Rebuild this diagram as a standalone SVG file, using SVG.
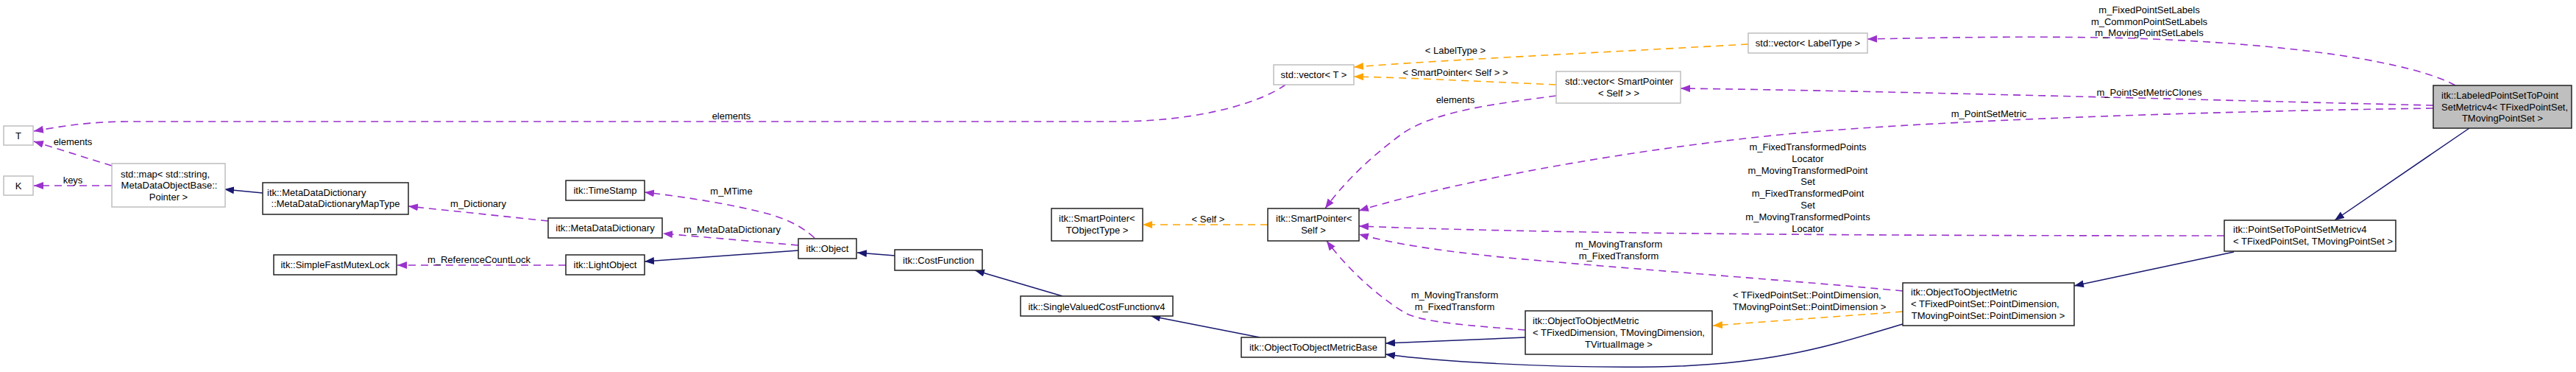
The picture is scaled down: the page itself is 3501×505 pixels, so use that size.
<svg xmlns="http://www.w3.org/2000/svg" width="3501" height="505" viewBox="0 0 3501 505">
<style>
text{font-family:"Liberation Sans",Arial,sans-serif;font-size:13px;fill:#000}
.c{text-anchor:middle}
.n rect{fill:#fff;stroke:#222;stroke-width:1.5}
.g rect{fill:#fff;stroke:#bfbfbf;stroke-width:1.5}
.sel rect{fill:#bfbfbf;stroke:#222;stroke-width:1.5}
.u{fill:none;stroke:#9a32cd;stroke-width:1.6;stroke-dasharray:10,7;marker-end:url(#mu)}
.t{fill:none;stroke:#ffa500;stroke-width:1.6;stroke-dasharray:10,7;marker-end:url(#mt)}
.i{fill:none;stroke:#191970;stroke-width:1.5;marker-end:url(#mi)}
</style>
<defs>
<marker id="mu" markerUnits="userSpaceOnUse" markerWidth="14" markerHeight="11" refX="13" refY="5" orient="auto"><path d="M0,0 L13,5 L0,10 z" fill="#9a32cd"/></marker>
<marker id="mt" markerUnits="userSpaceOnUse" markerWidth="14" markerHeight="11" refX="13" refY="5" orient="auto"><path d="M0,0 L13,5 L0,10 z" fill="#ffa500"/></marker>
<marker id="mi" markerUnits="userSpaceOnUse" markerWidth="14" markerHeight="11" refX="13" refY="5" orient="auto"><path d="M0,0 L13,5 L0,10 z" fill="#191970"/></marker>
</defs>
<rect width="3501" height="505" fill="#fff"/>
<g id="edges">
<path class="u" d="M1747,115 C1720,135 1640,165 1514,165 L175,165 C120,165 80,172 46,178"/>
<text class="c" x="994" y="161.5">elements</text>
<path class="u" d="M152,225 L46,192"/>
<text class="c" x="99" y="196.5">elements</text>
<path class="u" d="M152,252 L46,252"/>
<text class="c" x="99" y="248.5">keys</text>
<path class="i" d="M357,262 L305,257"/>
<path class="u" d="M745,300 L555,280"/>
<text class="c" x="650" y="280.5">m_Dictionary</text>
<path class="u" d="M1107,323 C1090,308 1075,300 1050,292 C1000,278 930,267 876,261"/>
<text class="c" x="994" y="263.5">m_MTime</text>
<path class="u" d="M1085,333 L901,317"/>
<text class="c" x="995" y="315.5">m_MetaDataDictionary</text>
<path class="u" d="M769,360 L540,360"/>
<text class="c" x="651" y="356.5">m_ReferenceCountLock</text>
<path class="i" d="M1085,340 L876,355"/>
<path class="i" d="M1216,347 L1165,343"/>
<path class="i" d="M1444,402 L1325,367"/>
<path class="i" d="M1712,458 L1564,429"/>
<path class="t" d="M1723,305 L1553,305"/>
<text class="c" x="1642" y="301.5">&lt; Self &gt;</text>
<path class="u" d="M2115,130 C2040,140 1950,150 1905,182 C1860,215 1825,250 1801,283"/>
<text class="c" x="1978" y="139.5">elements</text>
<path class="u" d="M3307,147 C3000,151 2650,163 2450,180 C2250,198 2000,240 1847,286"/>
<text class="c" x="2703" y="158.5">m_PointSetMetric</text>
<path class="u" d="M3307,143 C3000,136 2600,124 2284,120"/>
<text class="c" x="2921" y="129.5">m_PointSetMetricClones</text>
<path class="u" d="M3337,116 C3300,95 3180,62 2900,52 C2750,48 2600,52 2538,53"/>
<text class="c" x="2921" y="17.8">m_FixedPointSetLabels</text>
<text class="c" x="2921" y="33.5">m_CommonPointSetLabels</text>
<text class="c" x="2921" y="48.8">m_MovingPointSetLabels</text>
<path class="t" d="M2376,60 C2200,70 1950,82 1840,91"/>
<text class="c" x="1978" y="72.5">&lt; LabelType &gt;</text>
<path class="t" d="M2115,115 C2000,110 1900,105 1840,104"/>
<text class="c" x="1978" y="102.5">&lt; SmartPointer&lt; Self &gt; &gt;</text>
<path class="u" d="M3023,320 C2500,320 2100,317 1847,307"/>
<text class="c" x="2457" y="203.8">m_FixedTransformedPoints</text>
<text class="c" x="2457" y="219.5">Locator</text>
<text class="c" x="2457" y="235.5">m_MovingTransformedPoint</text>
<text class="c" x="2457" y="251.2">Set</text>
<text class="c" x="2457" y="267.2">m_FixedTransformedPoint</text>
<text class="c" x="2457" y="282.8">Set</text>
<text class="c" x="2457" y="298.8">m_MovingTransformedPoints</text>
<text class="c" x="2457" y="314.5">Locator</text>
<path class="u" d="M2586,395 C2450,382 2250,368 2050,350 C1950,340 1890,330 1847,318"/>
<text class="c" x="2200" y="336.2">m_MovingTransform</text>
<text class="c" x="2200" y="351.8">m_FixedTransform</text>
<path class="u" d="M2073,448 C2000,442 1935,438 1910,425 C1860,395 1820,350 1803,327"/>
<text class="c" x="1977" y="405.2">m_MovingTransform</text>
<text class="c" x="1977" y="421.2">m_FixedTransform</text>
<path class="t" d="M2586,423 L2328,442"/>
<text x="2355" y="404.5">&lt; TFixedPointSet::PointDimension,</text>
<text x="2355" y="421.2">TMovingPointSet::PointDimension &gt;</text>
<path class="i" d="M2073,458 L1883,466"/>
<path class="i" d="M2586,440 C2500,465 2420,495 2250,498 C2100,500 1950,490 1883,481"/>
<path class="i" d="M3036,342 L2819,388"/>
<path class="i" d="M3356,174 L3173,299"/>
</g>
<g id="T" class="g"><rect x="5" y="171" width="40" height="26"/><text class="c" x="25" y="188.5">T</text></g>
<g id="K" class="g"><rect x="5" y="239" width="40" height="26"/><text class="c" x="25" y="256.5">K</text></g>
<g id="stdmap" class="g"><rect x="152" y="222" width="154" height="59"/><text x="164" y="240.5">std::map&lt; std::string,</text><text class="c" x="230" y="256">MetaDataObjectBase::</text><text class="c" x="229" y="271.5">Pointer &gt;</text></g>
<g id="maptype" class="n"><rect x="357" y="248" width="198" height="43"/><text x="363" y="265.5">itk::MetaDataDictionary</text><text class="c" x="456" y="281">::MetaDataDictionaryMapType</text></g>
<g id="mutex" class="n"><rect x="372" y="346" width="167" height="27"/><text class="c" x="455.5" y="364">itk::SimpleFastMutexLock</text></g>
<g id="timestamp" class="n"><rect x="769" y="245" width="107" height="27"/><text class="c" x="822.5" y="263">itk::TimeStamp</text></g>
<g id="mdd" class="n"><rect x="745" y="296" width="155" height="27"/><text class="c" x="822.5" y="314">itk::MetaDataDictionary</text></g>
<g id="lightobject" class="n"><rect x="769" y="346" width="107" height="27"/><text class="c" x="822.5" y="364">itk::LightObject</text></g>
<g id="object" class="n"><rect x="1085" y="324" width="79" height="27"/><text class="c" x="1124.5" y="342">itk::Object</text></g>
<g id="costfunction" class="n"><rect x="1216" y="339" width="119" height="28"/><text class="c" x="1275.5" y="357.5">itk::CostFunction</text></g>
<g id="svcf" class="n"><rect x="1387" y="402" width="207" height="27"/><text class="c" x="1490.5" y="420.5">itk::SingleValuedCostFunctionv4</text></g>
<g id="otombase" class="n"><rect x="1687" y="458" width="196" height="27"/><text class="c" x="1785" y="475.5">itk::ObjectToObjectMetricBase</text></g>
<g id="sptobj" class="n"><rect x="1429" y="283" width="124" height="44"/><text x="1439" y="301.2">itk::SmartPointer&lt;</text><text class="c" x="1491" y="316.8">TObjectType &gt;</text></g>
<g id="spself" class="n"><rect x="1723" y="283" width="124" height="44"/><text x="1734" y="301.2">itk::SmartPointer&lt;</text><text class="c" x="1785" y="316.8">Self &gt;</text></g>
<g id="vecT" class="g"><rect x="1731" y="88" width="109" height="27"/><text class="c" x="1785.5" y="106">std::vector&lt; T &gt;</text></g>
<g id="vecSP" class="g"><rect x="2115" y="97" width="169" height="43"/><text x="2127" y="115">std::vector&lt; SmartPointer</text><text class="c" x="2200" y="130.5">&lt; Self &gt; &gt;</text></g>
<g id="vecLabel" class="g"><rect x="2376" y="45" width="162" height="27"/><text class="c" x="2457" y="63">std::vector&lt; LabelType &gt;</text></g>
<g id="labeled" class="sel"><rect x="3307" y="116" width="188" height="58"/><text x="3318" y="133.9">itk::LabeledPointSetToPoint</text><text x="3318" y="149.5">SetMetricv4&lt; TFixedPointSet,</text><text class="c" x="3401" y="165.1">TMovingPointSet &gt;</text></g>
<g id="pspsm" class="n"><rect x="3023" y="299" width="233" height="42"/><text x="3035" y="315.5">itk::PointSetToPointSetMetricv4</text><text x="3035" y="331.8">&lt; TFixedPointSet, TMovingPointSet &gt;</text></g>
<g id="otomPS" class="n"><rect x="2586" y="384" width="233" height="58"/><text x="2597" y="401.2">itk::ObjectToObjectMetric</text><text x="2597" y="417.2">&lt; TFixedPointSet::PointDimension,</text><text class="c" x="2702" y="433.2">TMovingPointSet::PointDimension &gt;</text></g>
<g id="otomDim" class="n"><rect x="2073" y="422" width="254" height="59"/><text x="2083" y="440.2">itk::ObjectToObjectMetric</text><text x="2083" y="456.2">&lt; TFixedDimension, TMovingDimension,</text><text class="c" x="2200" y="472.2">TVirtualImage &gt;</text></g>
</svg>
